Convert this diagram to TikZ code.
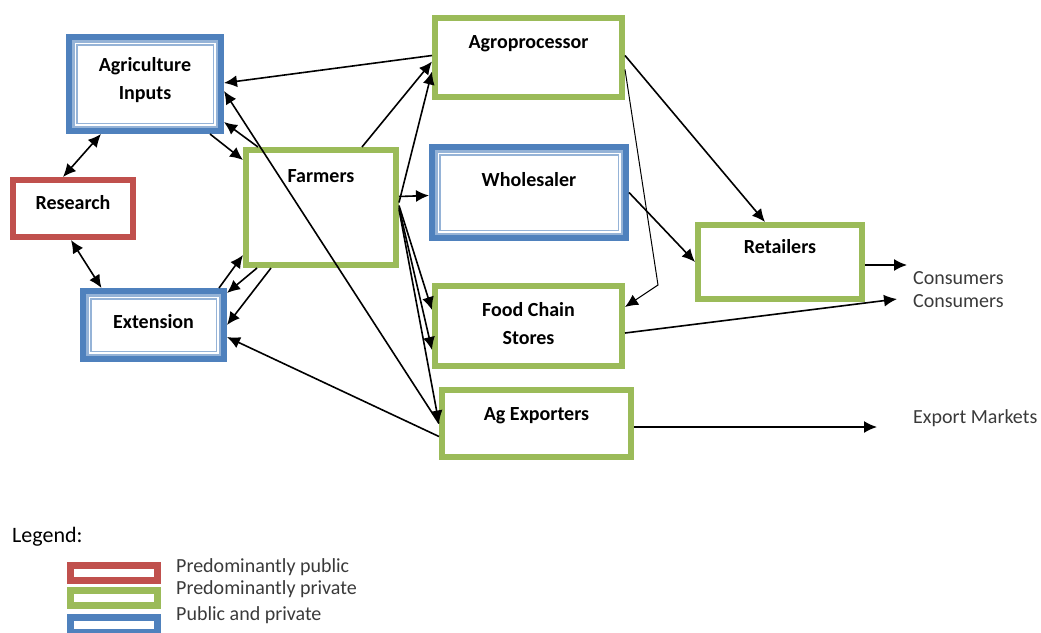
\documentclass[tikz,border=0pt]{standalone}
\usepackage{fontspec}
\setmainfont{Carlito}
\usepackage{tikz}
\usetikzlibrary{arrows.meta, positioning}

\definecolor{pubred}{HTML}{C0504D}
\definecolor{privgreen}{HTML}{9BBB59}
\definecolor{mixblue}{HTML}{4F81BD}
\definecolor{mixlight}{HTML}{95B3D7}
\definecolor{txtgray}{HTML}{3A3A3A}

\begin{document}
\begin{tikzpicture}[
    x=1pt, y=-1pt,
    font=\fontsize{20}{28}\selectfont,
    box/.style={draw, line width=6pt, fill=white, inner sep=0pt},
    pub/.style={box, draw=pubred},
    priv/.style={box, draw=privgreen},
    mixd/.style={box, draw=mixblue, path picture={
        \draw[mixlight, line width=2.5pt] ([shift={(4.25pt,4.25pt)}]path picture bounding box.south west) rectangle ([shift={(-4.25pt,-4.25pt)}]path picture bounding box.north east);
        \draw[mixlight, line width=1.5pt] ([shift={(7.75pt,7.75pt)}]path picture bounding box.south west) rectangle ([shift={(-7.75pt,-7.75pt)}]path picture bounding box.north east);
    }},
    lbl/.style={font=\fontsize{20}{28}\selectfont\bfseries, align=center, text=black},
    txt/.style={anchor=west, inner sep=3pt, text=txtgray},
    key/.style={draw, line width=7pt, fill=white, minimum width=87, minimum height=15, inner sep=0pt},
    edge/.style={-{Latex[length=13pt,width=12pt]}, line width=1.6pt},
    both/.style={{Latex[length=13pt,width=12pt]}-{Latex[length=13pt,width=12pt]}, line width=1.6pt}
]
    \useasboundingbox (0,0) rectangle (1041,632);

    % left column
    \node[mixd, minimum width=152, minimum height=94, label={[lbl, yshift=4pt]center:Agriculture\\Inputs}] (agri) at (145,84) {};
    \node[pub, minimum width=120, minimum height=57, label={[lbl, yshift=5.5pt]center:Research}] (res) at (73,208.5) {};
    \node[mixd, minimum width=141, minimum height=68, label={[lbl, yshift=3pt]center:Extension}] (ext) at (153.5,325) {};
    \node[priv, minimum width=150, minimum height=115, label={[lbl, yshift=31.5pt]center:Farmers}] (farm) at (321,207.5) {};

    % middle column
    \node[priv, minimum width=187, minimum height=79, label={[lbl, yshift=13.5pt]center:Agroprocessor}] (agro) at (528.5,57.5) {};
    \node[mixd, minimum width=194, minimum height=91, label={[lbl, yshift=12.5pt]center:Wholesaler}] (whole) at (529,192.5) {};
    \node[priv, minimum width=187, minimum height=80, label={[lbl, yshift=2.5pt]center:Food Chain\\Stores}] (food) at (528.5,326) {};
    \node[priv, minimum width=189, minimum height=67, label={[lbl, yshift=7.5pt]center:Ag Exporters}] (exp) at (536.5,423.5) {};
    \node[priv, minimum width=164, minimum height=74, label={[lbl, yshift=15pt]center:Retailers}] (ret) at (780,262) {};

    \node[txt] (cons1) at (910,278) {Consumers};
    \node[txt] (cons2) at (910,301) {Consumers};
    \node[txt] (mkt) at (910,418) {Export Markets};

    \draw[both] ([xshift=-10pt]res.north) -- ([xshift=-44pt]agri.south);
    \draw[both] ([xshift=-2pt]res.south) -- ([xshift=-52pt]ext.north);

    \draw[edge] ([xshift=65pt]agri.south) -- ([yshift=-13pt]farm.north west);
    \draw[edge] ([xshift=15pt]farm.north west) -- ([yshift=12pt]agri.south east);
    \draw[edge] ([yshift=2pt]agro.west) -- ([yshift=1pt]agri.east);
    \draw[edge] (exp.west) -- ([yshift=-7pt]agri.east);
    \draw[edge] ([yshift=-13pt]exp.west) -- ([yshift=-12pt]ext.east);

    \draw[edge] ([xshift=-8pt]ext.north east) -- ([yshift=13pt]farm.south west);
    \draw[edge] ([xshift=14pt]farm.south west) -- ([yshift=-5pt]ext.north east);
    \draw[edge] ([xshift=28pt]farm.south west) -- (ext.east);

    \draw[edge] ([xshift=-37pt]farm.north east) -- ([yshift=-4pt]agro.west);
    \draw[edge] ([yshift=5pt]farm.east) -- ([yshift=-14pt]agro.west);
    \draw[edge] ([yshift=11pt]farm.east) -- ([yshift=-3pt]whole.west);
    \draw[edge] ([yshift=2pt]farm.east) -- ([yshift=16pt]food.west);
    \draw[edge] (farm.east) -- ([yshift=-24pt]food.west);
    \draw[edge] ([yshift=-2pt]farm.east) -- (exp.west);

    \draw[edge] ([yshift=2pt]agro.east) -- ([xshift=-15pt]ret.north);
    \coordinate (kink) at (658,285);
    \draw[edge, line width=1pt] ([yshift=-12pt]agro.east) -- (kink) -- ([yshift=19pt]food.east);
    \draw[edge] (whole.east) -- (ret.west);
    \draw[edge] ([yshift=-3pt]ret.east) -- ([xshift=-3pt, yshift=13pt]cons1.west);
    \draw[edge] ([yshift=-7pt]food.east) -- ([xshift=-13pt, yshift=2pt]cons2.west);
    \draw[edge] ([yshift=-3.5pt]exp.east) -- ([xshift=-33pt, yshift=-9pt]mkt.west);

    % legend
    \node[txt, text=black, font=\fontsize{22}{26}\selectfont] (leg) at (9,537) {Legend:};
    \node[key, draw=pubred] (kred) at (114,572.5) {};
    \node[key, draw=privgreen, below=3pt of kred] (kgrn) {};
    \node[key, draw=mixblue, below=5pt of kgrn] (kblu) {};
    \node[txt, right=12pt of kred, yshift=5pt] {Predominantly public};
    \node[txt, right=12pt of kgrn, yshift=8pt] {Predominantly private};
    \node[txt, right=12pt of kblu, yshift=9pt] {Public and private};

\end{tikzpicture}
\end{document}
